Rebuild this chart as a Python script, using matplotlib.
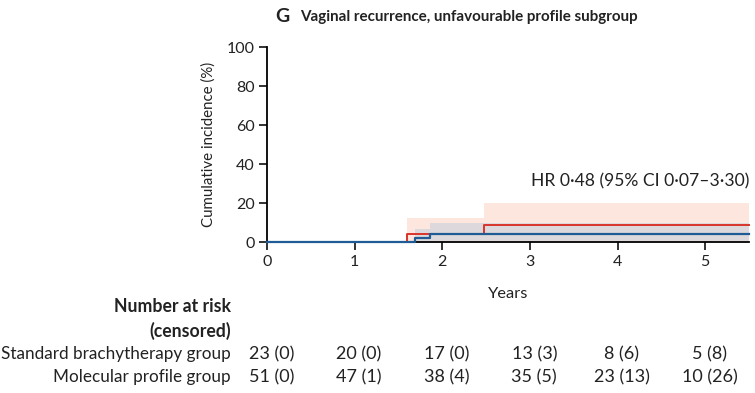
import matplotlib.pyplot as plt
import matplotlib.transforms as mtransforms

plt.rcParams['font.family'] = ['Lato', 'DejaVu Sans']

# step data (years, cumulative incidence %)
std_t = [0, 1.60, 2.48, 5.5]
std_y = [0, 4.35, 8.70, 8.70]
std_lo = [0, 0, 0, 0]
std_hi = [0, 12.5, 20.0, 20.0]

mol_t = [0, 1.69, 1.86, 5.5]
mol_y = [0, 1.96, 3.92, 3.92]
mol_lo = [0, 0, 0, 0]
mol_hi = [0, 6.5, 9.9, 9.9]

risk_times = [0, 1, 2, 3, 4, 5]
std_risk = ["23 (0)", "20 (0)", "17 (0)", "13 (3)", "8 (6)", "5 (8)"]
mol_risk = ["51 (0)", "47 (1)", "38 (4)", "35 (5)", "23 (13)", "10 (26)"]

red = '#d9342b'
blue = '#1f5b95'
txt = '#222222'

fig = plt.figure(figsize=(7.55, 3.93), dpi=100)
ax = fig.add_axes([0.3536, 0.384, 0.6384, 0.496])

ax.fill_between(std_t, std_lo, std_hi, step='post', color='#fde6de', lw=0)
ax.fill_between(mol_t, mol_lo, mol_hi, step='post', color='#c9cfdc', alpha=0.6, lw=0)
ax.step(std_t, std_y, where='post', color=red, lw=1.4, clip_on=False, zorder=3)
ax.step(mol_t, mol_y, where='post', color=blue, lw=1.6, clip_on=False, zorder=4)

ax.set_xlim(0, 5.5)
ax.set_ylim(0, 100)
ax.set_xticks(range(6))
ax.set_yticks(range(0, 101, 20))
ax.spines['top'].set_visible(False)
ax.spines['right'].set_visible(False)
for s in ['left', 'bottom']:
    ax.spines[s].set_linewidth(1.3)
ax.tick_params(width=1.3, length=6, labelsize=11.5, colors=txt, pad=3)
ax.set_ylabel('Cumulative incidence (%)', fontsize=10.8, color=txt, labelpad=8)

ax.text(5.5, 31, 'HR 0·48 (95% CI 0·07–3·30)', ha='right', va='center',
        fontsize=12.6, color=txt)

fig.text(275 / 755, 1 - 17 / 393, 'G', fontsize=14, fontweight='bold', va='center', color=txt)
fig.text(300 / 755, 1 - 17 / 393, 'Vaginal recurrence, unfavourable profile subgroup',
         fontsize=10.9, fontweight='bold', va='center', color=txt)

trans = mtransforms.blended_transform_factory(ax.transData, fig.transFigure)
lab_x = -0.41
fig.text(2.75, 1 - 294 / 393, 'Years', transform=trans, ha='center', va='center',
         fontsize=11.8, color=txt)
fig.text(lab_x, 1 - 307 / 393, 'Number at risk', transform=trans, ha='right',
         va='center', fontsize=12.7, fontweight='bold', color=txt)
fig.text(lab_x, 1 - 331 / 393, '(censored)', transform=trans, ha='right',
         va='center', fontsize=12.7, fontweight='bold', color=txt)
fig.text(lab_x, 1 - 354 / 393, 'Standard brachytherapy group', transform=trans,
         ha='right', va='center', fontsize=12.3, color=txt)
fig.text(lab_x, 1 - 377 / 393, 'Molecular profile group', transform=trans,
         ha='right', va='center', fontsize=12.3, color=txt)
for t, a, b in zip(risk_times, std_risk, mol_risk):
    fig.text(t + 0.05, 1 - 354 / 393, a, transform=trans, ha='center', va='center',
             fontsize=13, color=txt)
    fig.text(t + 0.05, 1 - 377 / 393, b, transform=trans, ha='center', va='center',
             fontsize=13, color=txt)

fig.savefig('out.png', dpi=100)
